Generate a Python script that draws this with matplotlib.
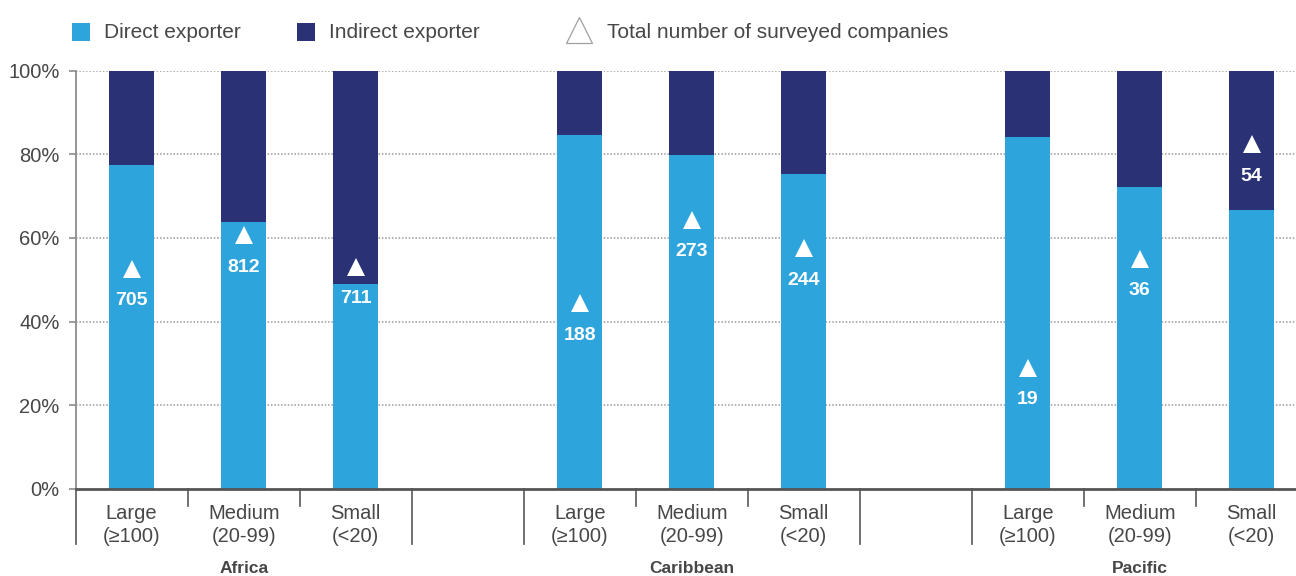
import numpy as np
import matplotlib.pyplot as plt
from matplotlib.lines import Line2D
import matplotlib.transforms as mtransforms

plt.rcParams['font.family'] = ['Liberation Sans', 'DejaVu Sans']

regions = ["Africa", "Caribbean", "Pacific"]
size_labels = ["Large\n(≥100)", "Medium\n(20-99)", "Small\n(<20)"]

# share of surveyed exporters (%), by region then firm size
direct_share = [77.4, 63.7, 48.9, 84.5, 79.8, 75.4, 84.1, 72.1, 66.6]
company_counts = [705, 812, 711, 188, 273, 244, 19, 36, 54]
# each region plots its counts on its own scale (count at the 100% line)
count_scale_max = [1340, 424, 65.5]

DIRECT = "#2ea4dc"
INDIRECT = "#2a3174"
TEXT = "#474747"

n_sizes = len(size_labels)
slot = []
for r in range(len(regions)):
    for s in range(n_sizes):
        slot.append(r * (n_sizes + 1) + s)
slot = np.array(slot)
direct = np.array(direct_share)
indirect = 100 - direct

fig = plt.figure(figsize=(12.96, 5.76), dpi=100)
ax = fig.add_axes([0.0584, 0.1514, 0.9416, 0.7259])

ax.bar(slot, direct, width=0.4, color=DIRECT, zorder=2)
ax.bar(slot, indirect, bottom=direct, width=0.4, color=INDIRECT, zorder=2)

# triangles with the number of surveyed companies
for i, (x, n) in enumerate(zip(slot, company_counts)):
    y = n / count_scale_max[i // n_sizes] * 100
    ax.plot(x, y, marker="^", markersize=13.5, color="white",
            markeredgewidth=0, zorder=3)
    ax.annotate(str(n), (x, y), xytext=(0, -23), textcoords="offset points",
                ha="center", va="center", color="white", fontsize=14,
                fontweight="bold", zorder=4)

ax.set_xlim(-0.5, -0.5 + (1296 - 75.7) / 112)
ax.set_ylim(0, 100)
ax.set_yticks(range(0, 101, 20))
ax.set_yticklabels([f"{v}%" for v in range(0, 101, 20)])
ax.tick_params(axis="y", length=5, width=1.2, color="#8c8c8c", pad=6.5,
               labelsize=14.5, labelcolor=TEXT)
ax.set_xticks([])
for v in range(20, 101, 20):
    ax.axhline(v, color="#9a9a9a", linewidth=1.1, linestyle=(0, (1, 1.2)),
               zorder=1)

for side in ["top", "right"]:
    ax.spines[side].set_visible(False)
ax.spines["left"].set_color("#8c8c8c")
ax.spines["left"].set_linewidth(1.3)
ax.spines["bottom"].set_color("#555555")
ax.spines["bottom"].set_linewidth(2)
ax.spines["bottom"].set_zorder(5)

# separators under the axis: short inside a region, long between regions
trans = mtransforms.blended_transform_factory(ax.transData, ax.transAxes)
group_of = {}
for r in range(len(regions)):
    for s in range(n_sizes):
        group_of[r * (n_sizes + 1) + s] = r
for k in range(len(regions) * (n_sizes + 1) - 1):
    left, right = group_of.get(k - 1), group_of.get(k)
    same = left is not None and left == right
    y_end = -0.04 if same else -0.133
    ax.plot([k - 0.5, k - 0.5], [0, y_end], color="#666666", linewidth=1.3,
            transform=trans, clip_on=False)

for x, lab in zip(slot, size_labels * len(regions)):
    ax.text(x, -0.037, lab, transform=trans, ha="center", va="top",
            fontsize=14.5, color=TEXT, linespacing=1.22)
for r, name in enumerate(regions):
    ax.text(r * (n_sizes + 1) + 1, -0.19, name, transform=trans,
            ha="center", va="center", fontsize=12.5, fontweight="bold",
            color=TEXT)

# legend along the top
def fx(px):
    return px / 1296

def fy(py):
    return 1 - py / 576

for px, color, label in [(81, DIRECT, "Direct exporter"),
                         (306, INDIRECT, "Indirect exporter")]:
    fig.add_artist(Line2D([fx(px)], [fy(32)], marker="s", markersize=13,
                          color=color, markeredgewidth=0,
                          transform=fig.transFigure))
    fig.text(fx(px + 23), fy(33), label, ha="left", va="center",
             fontsize=15, color=TEXT)
fig.add_artist(Line2D([fx(579)], [fy(30)], marker="^", markersize=19,
                      markerfacecolor="white", markeredgecolor="#a0a0a0",
                      markeredgewidth=0.9, linestyle="none",
                      transform=fig.transFigure))
fig.text(fx(607), fy(33), "Total number of surveyed companies", ha="left",
         va="center", fontsize=15, color=TEXT)

fig.savefig("out.png", dpi=100)
